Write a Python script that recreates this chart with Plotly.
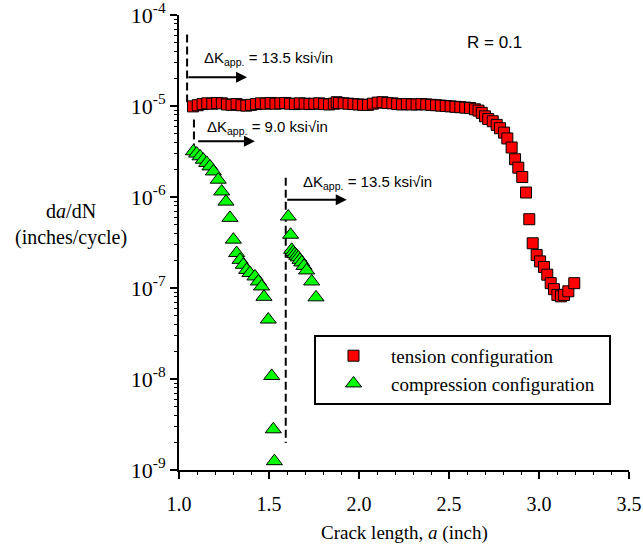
import math
import plotly.graph_objects as go

# ---------------- data ----------------
tension_a = [1.078, 1.104, 1.131, 1.157, 1.185, 1.212, 1.238, 1.266, 1.292, 1.320,
             1.347, 1.374, 1.400, 1.428, 1.455, 1.482, 1.509, 1.536, 1.563, 1.590,
             1.617, 1.644, 1.671, 1.698, 1.725, 1.752, 1.779, 1.806, 1.833, 1.860,
             1.876, 1.889, 1.915, 1.942, 1.969, 1.996, 2.023, 2.050, 2.077, 2.104,
             2.131, 2.158, 2.185, 2.212, 2.239, 2.266, 2.293, 2.320, 2.347, 2.374,
             2.401, 2.428, 2.455, 2.482, 2.509, 2.536, 2.563, 2.590, 2.617, 2.644,
             2.664, 2.682, 2.700, 2.718, 2.743, 2.765, 2.783, 2.806, 2.824, 2.848,
             2.867, 2.885, 2.907, 2.928, 2.946, 2.965, 2.987, 3.006, 3.028, 3.046,
             3.065, 3.083, 3.102, 3.122, 3.139, 3.163, 3.196]
tension_dadn = [9.9e-6, 1.02e-5, 1.05e-5, 1.07e-5, 1.06e-5, 1.08e-5, 1.07e-5, 1.04e-5, 1.03e-5, 1.05e-5,
                1.02e-5, 1.01e-5, 1.03e-5, 1.05e-5, 1.07e-5, 1.06e-5, 1.08e-5, 1.06e-5, 1.07e-5, 1.08e-5,
                1.06e-5, 1.05e-5, 1.07e-5, 1.06e-5, 1.05e-5, 1.06e-5, 1.07e-5, 1.05e-5, 1.04e-5, 1.06e-5,
                1.10e-5, 1.08e-5, 1.07e-5, 1.06e-5, 1.05e-5, 1.04e-5, 1.03e-5, 1.03e-5, 1.06e-5, 1.09e-5,
                1.10e-5, 1.08e-5, 1.07e-5, 1.05e-5, 1.04e-5, 1.05e-5, 1.04e-5, 1.04e-5, 1.05e-5, 1.04e-5,
                1.03e-5, 1.02e-5, 1.01e-5, 1.00e-5, 9.9e-6, 9.8e-6, 9.7e-6, 9.6e-6, 9.5e-6, 9.2e-6,
                8.9e-6, 8.4e-6, 7.7e-6, 7.2e-6, 6.8e-6, 6.2e-6, 5.7e-6, 5.1e-6, 4.4e-6, 3.5e-6,
                2.6e-6, 2.1e-6, 1.66e-6, 1.12e-6, 5.7e-7, 3.1e-7, 2.3e-7, 1.96e-7, 1.70e-7, 1.40e-7,
                1.13e-7, 9.7e-8, 8.4e-8, 8.1e-8, 8.4e-8, 9.2e-8, 1.13e-7]

comp_a = [1.080, 1.098, 1.117, 1.135, 1.154, 1.172, 1.191, 1.218, 1.237, 1.261,
          1.283, 1.302, 1.320, 1.339, 1.357, 1.376, 1.394, 1.422, 1.441, 1.459,
          1.472, 1.496, 1.515, 1.524, 1.530,
          1.607, 1.620, 1.626, 1.635, 1.644, 1.654, 1.663, 1.672, 1.682, 1.694,
          1.709, 1.737, 1.761]
comp_dadn = [3.18e-6, 3.0e-6, 2.8e-6, 2.57e-6, 2.37e-6, 2.17e-6, 1.91e-6, 1.55e-6, 1.15e-6, 8.9e-7,
             5.9e-7, 3.4e-7, 2.42e-7, 2.04e-7, 1.80e-7, 1.58e-7, 1.46e-7, 1.34e-7, 1.18e-7, 1.04e-7,
             8.0e-8, 4.5e-8, 1.08e-8, 2.8e-9, 1.25e-9,
             6.1e-7, 3.85e-7, 2.63e-7, 2.48e-7, 2.36e-7, 2.26e-7, 2.17e-7, 2.04e-7, 1.91e-7, 1.75e-7,
             1.56e-7, 1.18e-7, 7.9e-8]

series_names = ["tension configuration", "compression configuration\u00a0\u00a0"]

# step-change markers (dashed lines), arrows and labels
step_a = [1.045, 1.083, 1.593]
step_top = [6.1e-5, 7.1e-6, 1.63e-6]
step_bottom = [1.1e-5, 3.3e-6, 1.98e-9]
arrow_tail_a = [1.044, 1.098, 1.593]
arrow_tip_a = [1.378, 1.422, 1.932]
arrow_level = [2.07e-5, 4.09e-6, 9.33e-7]
label_text = ["ΔK<sub>app.</sub> = 13.5 ksi√in",
              "ΔK<sub>app.</sub> = 9.0 ksi√in",
              "ΔK<sub>app.</sub> = 13.5 ksi√in"]
label_a = [1.125, 1.142, 1.680]
label_level = [3.3e-5, 5.8e-6, 1.45e-6]
r_text = "R = 0.1"
r_a = 2.59
r_level = 5.0e-5

x_tickvals = [1.0, 1.5, 2.0, 2.5, 3.0, 3.5]
x_ticktext = ["1.0", "1.5", "2.0", "2.5", "3.0", "3.5"]
y_tickvals = [1e-9, 1e-8, 1e-7, 1e-6, 1e-5, 1e-4]
y_ticktext = ["10<sup>-9</sup>", "10<sup>-8</sup>", "10<sup>-7</sup>",
              "10<sup>-6</sup>", "10<sup>-5</sup>", "10<sup>-4</sup>"]

SERIF = "Liberation Serif"
SANS = "Liberation Sans"

fig = go.Figure()

for a, top, bot in zip(step_a, step_top, step_bottom):
    fig.add_trace(go.Scatter(x=[a, a], y=[top, bot], mode="lines",
                             line=dict(color="black", width=2, dash="8px,4px"),
                             showlegend=False, hoverinfo="skip"))

fig.add_trace(go.Scatter(x=tension_a, y=tension_dadn, mode="markers", name=series_names[0],
                         marker=dict(symbol="square", size=11, color="#ff0000",
                                     line=dict(color="black", width=1))))
fig.add_trace(go.Scatter(x=comp_a, y=comp_dadn, mode="markers", name=series_names[1],
                         marker=dict(symbol="triangle-up", size=14, color="#00ff00",
                                     line=dict(color="black", width=1))))

annotations = []
for t, h, lv in zip(arrow_tail_a, arrow_tip_a, arrow_level):
    annotations.append(dict(x=h, y=math.log10(lv), ax=t, ay=math.log10(lv),
                            xref="x", yref="y", axref="x", ayref="y", text="",
                            showarrow=True, arrowhead=2, arrowsize=1.1, arrowwidth=2,
                            arrowcolor="black", standoff=0, startstandoff=0))
for txt, a, lv in zip(label_text, label_a, label_level):
    annotations.append(dict(x=a, y=math.log10(lv), xref="x", yref="y", text=txt,
                            showarrow=False, xanchor="left", yanchor="middle",
                            font=dict(family=SANS, size=15, color="black")))
annotations.append(dict(x=r_a, y=math.log10(r_level), xref="x", yref="y", text=r_text,
                        showarrow=False, xanchor="left", yanchor="middle",
                        font=dict(family=SANS, size=17, color="black")))
annotations.append(dict(x=-0.24, y=0.54, xref="paper", yref="paper",
                        text="d<i>a</i>/dN<br>(inches/cycle)", showarrow=False,
                        xanchor="center", yanchor="middle", align="center",
                        font=dict(family=SERIF, size=20, color="black")))
annotations.append(dict(x=0.5, y=-0.139, xref="paper", yref="paper",
                        text="Crack length, <i>a</i> (inch)", showarrow=False,
                        xanchor="center", yanchor="middle",
                        font=dict(family=SERIF, size=19, color="black")))

fig.update_layout(
    width=643, height=552,
    margin=dict(l=179, r=14, t=15, b=82, autoexpand=False),
    paper_bgcolor="white", plot_bgcolor="white",
    showlegend=True,
    legend=dict(x=0.30, y=0.297, xanchor="left", yanchor="top",
                bordercolor="black", borderwidth=2, bgcolor="white",
                font=dict(family=SERIF, size=19, color="black"),
                itemwidth=65, tracegroupgap=0),
    annotations=annotations,
    xaxis=dict(range=[1.0, 3.5], tickvals=x_tickvals, ticktext=x_ticktext, automargin=False,
               showgrid=False, zeroline=False, showline=True, linecolor="black", linewidth=2,
               ticks="outside", ticklen=7, tickwidth=2, tickcolor="black", ticklabelstandoff=8,
               ticklabeloverflow="allow",
               tickfont=dict(family=SERIF, size=20, color="black"),
               minor=dict(dtick=0.1, ticks="outside", ticklen=3, tickwidth=1, tickcolor="black",
                          showgrid=False)),
    yaxis=dict(type="log", range=[-9, -4], tickvals=y_tickvals, ticktext=y_ticktext, automargin=False,
               showgrid=False, zeroline=False, showline=True, linecolor="black", linewidth=2,
               ticks="outside", ticklen=7, tickwidth=2, tickcolor="black",
               ticklabeloverflow="allow",
               tickfont=dict(family=SERIF, size=22, color="black"),
               minor=dict(dtick="D1", ticks="outside", ticklen=3, tickwidth=1, tickcolor="black",
                          showgrid=False)),
)

fig.write_html("out.html", config={"displayModeBar": False},
               post_script="document.body.style.margin='0px';document.body.style.overflow='hidden';")
